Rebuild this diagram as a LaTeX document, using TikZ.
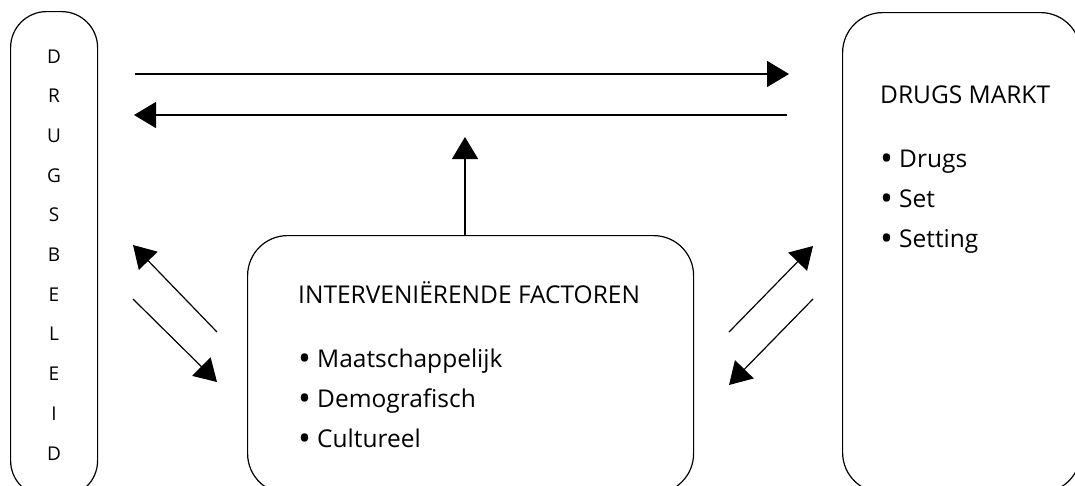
\documentclass[tikz,border=0pt]{standalone}
\usepackage{fontspec}
\setmainfont{Open Sans}
\usetikzlibrary{arrows.meta}
\newcommand\bul{\makebox[19pt][l]{\raisebox{-3.6pt}{\scalebox{1.4}{•}}}}
\begin{document}
\begin{tikzpicture}[x=1pt,y=-1pt,
  box/.style={draw, line width=1.2pt, rounded corners=40pt, inner sep=0pt},
  conn/.style={line width=1.2pt, -{Triangle[length=22pt,width=26pt]}},
  txt/.style={anchor=base west, inner sep=0pt, font=\fontsize{24.5}{28}\selectfont},
  letter/.style={anchor=base, inner sep=0pt, font=\fontsize{19}{22}\selectfont}]
\useasboundingbox (0,0) rectangle (1075,485);
\clip (0,0) rectangle (1075,485);
% boxes
\node[box, anchor=north west, minimum width=87pt, minimum height=485pt, rounded corners=36pt] (beleid) at (10,11) {};
\node[box, anchor=north west, minimum width=238pt, minimum height=480pt] (markt) at (842,12) {};
\node[box, anchor=north west, minimum width=446pt, minimum height=258pt] (factors) at (247,235) {};
% vertical letters
\foreach \l [count=\i from 0] in {D,R,U,G,S,B,E,L,E,I,D}
  \node[letter] (l\i) at (54,{63+39.7*\i}) {\l};
% market text
\node[txt] (mt) at (880,103.5) {DRUGS MARKT};
\node[txt] (m1) at (880,167) {\bul Drugs};
\node[txt] (m2) at (880,207) {\bul Set};
\node[txt] (m3) at (880,247) {\bul Setting};
% factors text
\node[txt] (ft) at (298,303) {INTERVENIËRENDE FACTOREN};
\node[txt] (f1) at (298,367) {\bul Maatschappelijk};
\node[txt] (f2) at (298,407) {\bul Demografisch};
\node[txt] (f3) at (298,447) {\bul Cultureel};
% connector end points
\coordinate (a1s) at (135,74);  \coordinate (a1e) at (789,74);
\coordinate (a2s) at (787,115); \coordinate (a2e) at (134,115);
\coordinate (vs) at (465,235);  \coordinate (ve) at (465,137);
\coordinate (las) at (217,332); \coordinate (lae) at (133,245);
\coordinate (lbs) at (133,299); \coordinate (lbe) at (217,382);
\coordinate (ras) at (729,332); \coordinate (rae) at (813,246);
\coordinate (rbs) at (813,299); \coordinate (rbe) at (729,385);
\draw[conn] (a1s) -- (a1e);
\draw[conn] (a2s) -- (a2e);
\draw[conn] (vs) -- (ve);
\draw[conn] (las) -- (lae);
\draw[conn] (lbs) -- (lbe);
\draw[conn] (ras) -- (rae);
\draw[conn] (rbs) -- (rbe);
\end{tikzpicture}
\end{document}
